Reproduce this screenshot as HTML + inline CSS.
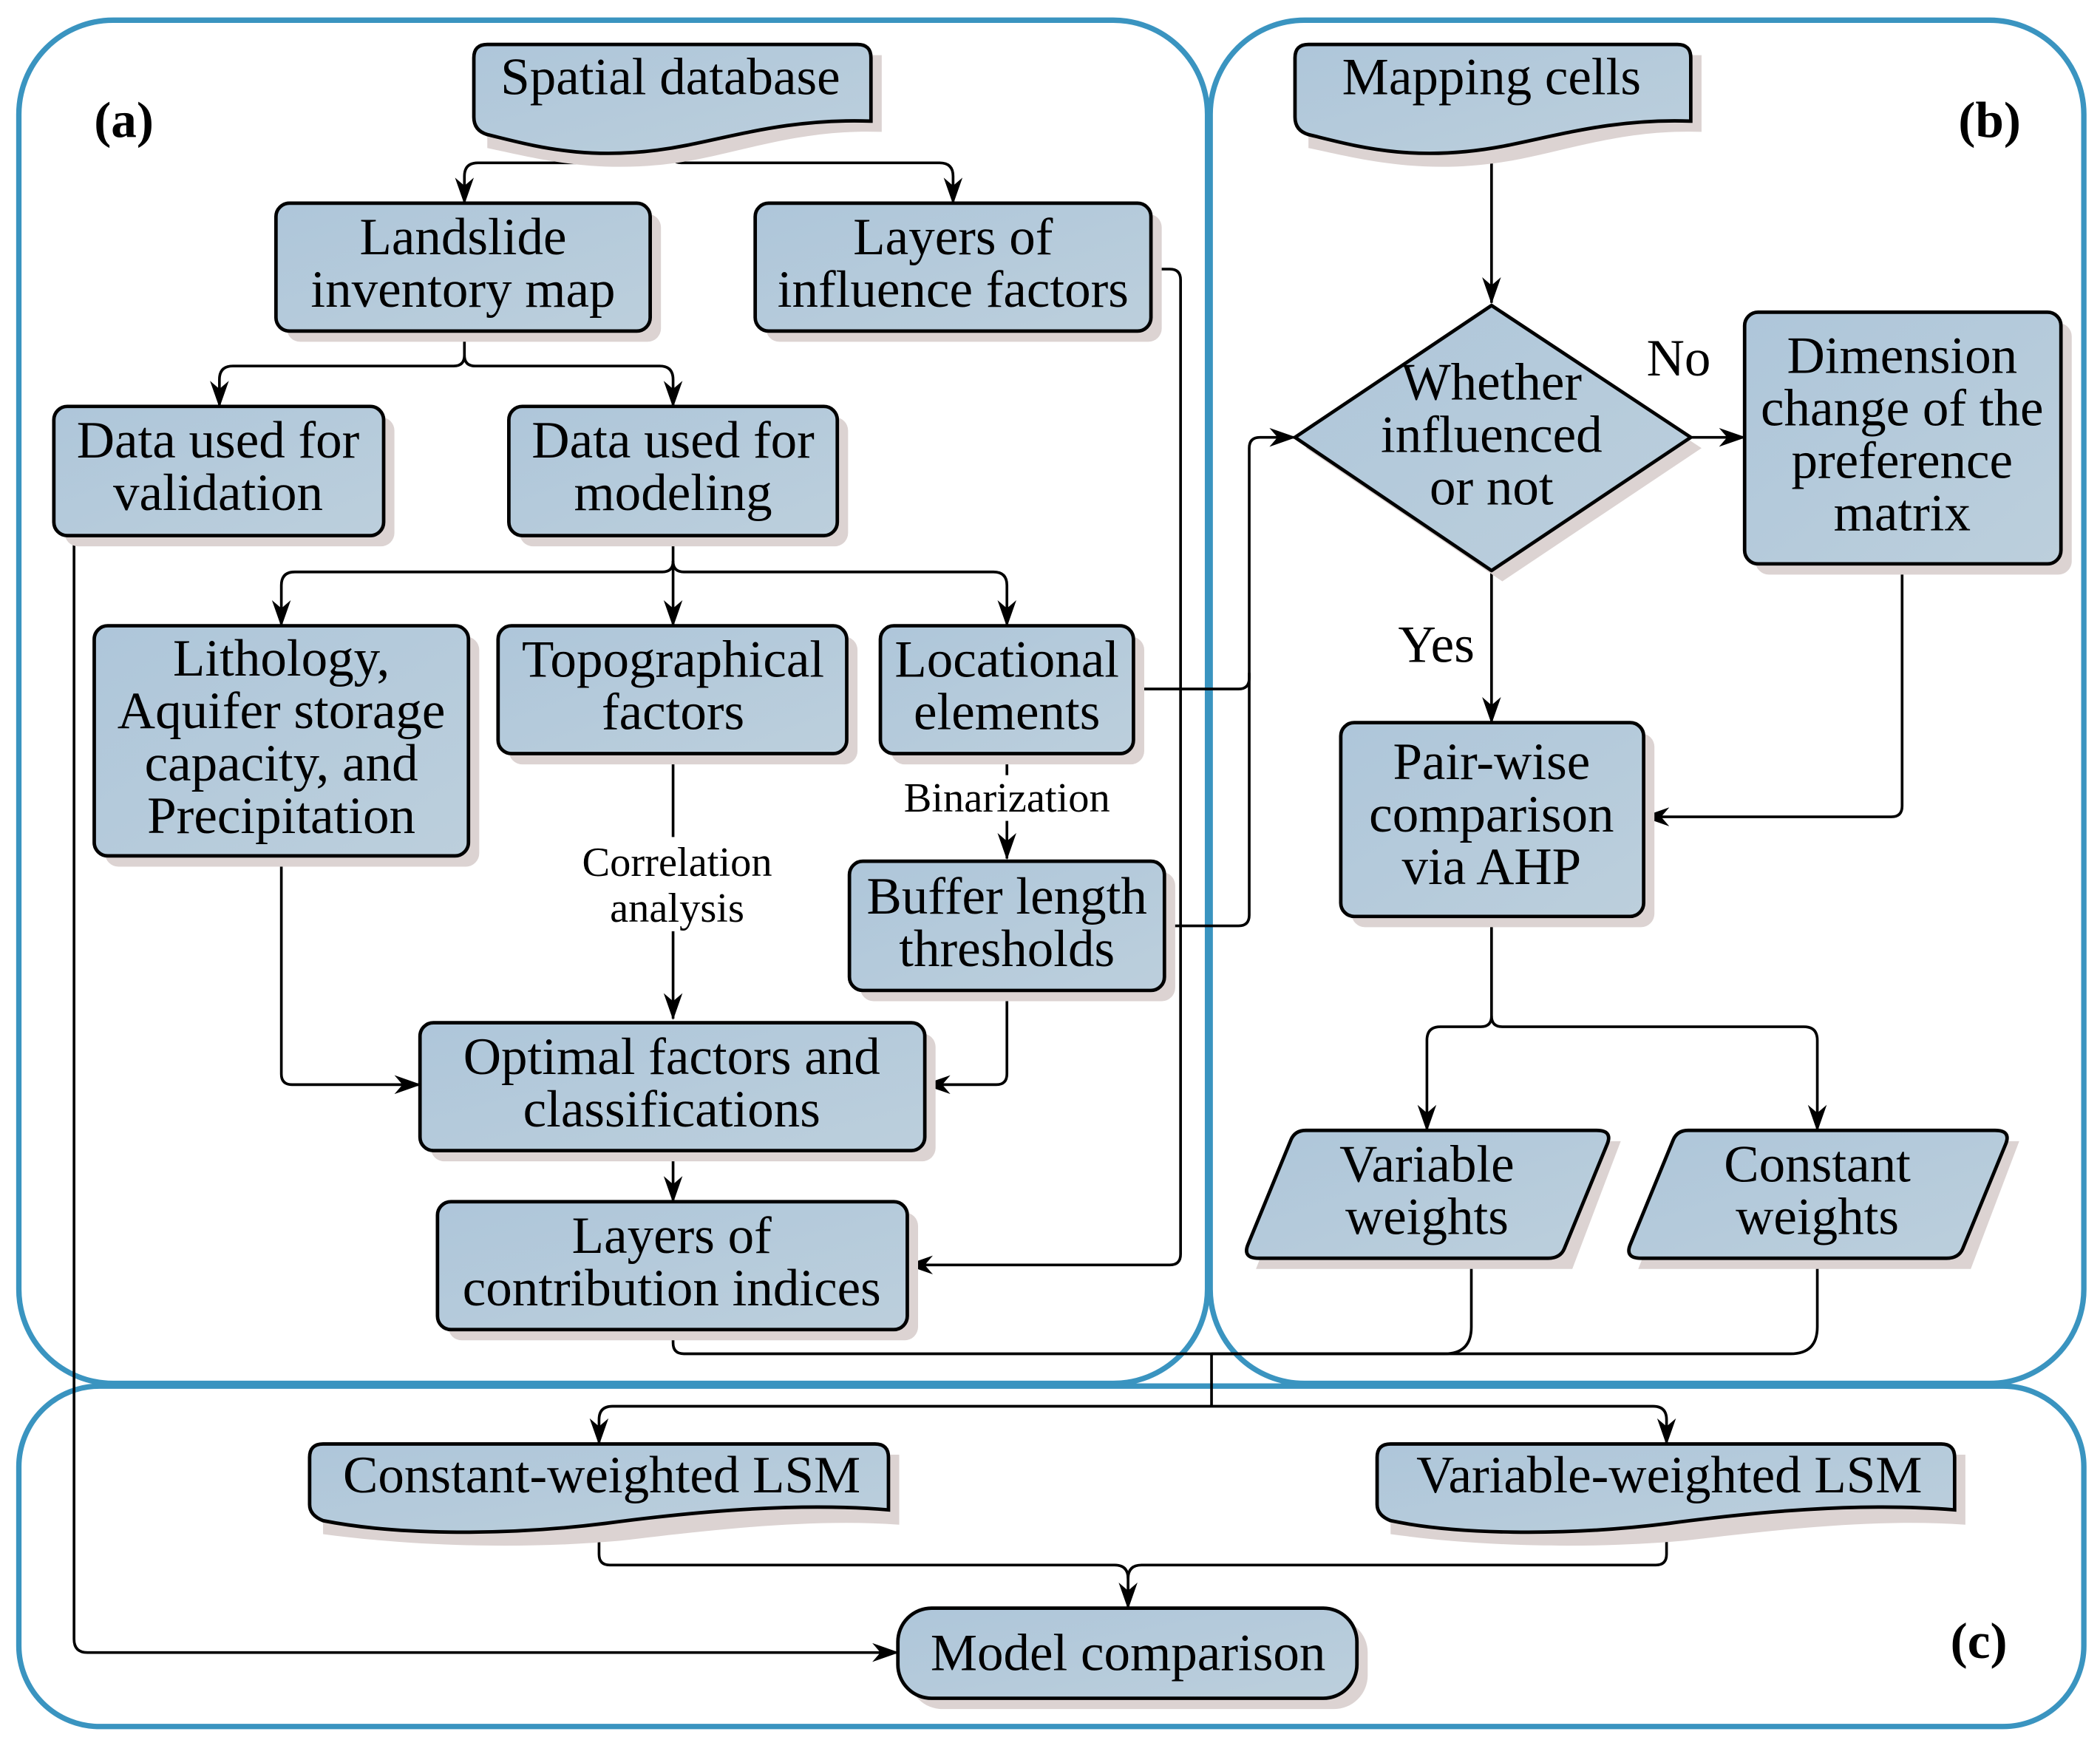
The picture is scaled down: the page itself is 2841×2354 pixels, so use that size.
<!DOCTYPE html>
<html><head><meta charset="utf-8"><style>html,body{margin:0;padding:0;background:#fff}svg{display:block}</style></head>
<body>
<svg xmlns="http://www.w3.org/2000/svg" width="2841" height="2354" viewBox="0 0 1560 1293" preserveAspectRatio="none">
<defs>
<linearGradient id="g" x1="0" y1="0" x2="1" y2="1">
<stop offset="0" stop-color="#aec6da"/><stop offset="1" stop-color="#bccfdc"/></linearGradient>
<marker id="a" viewBox="0 0 20 16" refX="19" refY="8" markerWidth="20" markerHeight="16" markerUnits="userSpaceOnUse" orient="auto">
<path d="M0,1 L20,8 L0,15 L6,8 Z" fill="#000"/></marker>
</defs>
<style>
.f{fill:none;stroke:#3a94c0;stroke-width:4}
.n{fill:url(#g);stroke:#000;stroke-width:2.6}
.s{fill:#dcd3d2}
.c{fill:none;stroke:#000;stroke-width:2}
text{font-family:"Liberation Serif",serif;font-size:39px;fill:#000;text-anchor:middle}
.sm{font-size:31px}
.lb{font-size:38px;font-weight:bold}
</style>
<rect class="f" x="14" y="15" width="883" height="1013" rx="70"/>
<rect class="f" x="899" y="15" width="649" height="1013" rx="70"/>
<rect class="f" x="14" y="1030" width="1534" height="253" rx="60"/>
<text class="lb" x="92" y="102">(a)</text>
<text class="lb" x="1478" y="102">(b)</text>
<text class="lb" x="1470" y="1232">(c)</text>

<path class="c" d="M498,112 V114 Q498,121 490,121 H355 Q345,121 345,131 V151" marker-end="url(#a)"/>
<path class="c" d="M498,112 Q498,121 506,121 H698 Q708,121 708,131 V151" marker-end="url(#a)"/>
<path class="c" d="M345,246 V264 Q345,272 337,272 H173 Q163,272 163,282 V302" marker-end="url(#a)"/>
<path class="c" d="M345,264 Q345,272 353,272 H490 Q500,272 500,282 V302" marker-end="url(#a)"/>
<path class="c" d="M500,398 V465" marker-end="url(#a)"/>
<path class="c" d="M500,417 Q500,425 492,425 H219 Q209,425 209,435 V465" marker-end="url(#a)"/>
<path class="c" d="M500,417 Q500,425 508,425 H738 Q748,425 748,435 V465" marker-end="url(#a)"/>
<path class="c" d="M55,398 V1218 Q55,1228 65,1228 H667" marker-end="url(#a)"/>
<path class="c" d="M855,200 H869 Q877,200 877,208 V932 Q877,940 869,940 H674" marker-end="url(#a)"/>
<path class="c" d="M500,560 V757" marker-end="url(#a)"/>
<path class="c" d="M748,560 V638" marker-end="url(#a)"/>
<path class="c" d="M209,636 V798 Q209,806 217,806 H312" marker-end="url(#a)"/>
<path class="c" d="M748,736 V798 Q748,806 740,806 H687" marker-end="url(#a)"/>
<path class="c" d="M500,855 V893" marker-end="url(#a)"/>
<path class="c" d="M842,512 H920 Q928,512 928,504 V333 Q928,325 936,325 H962" marker-end="url(#a)"/>
<path class="c" d="M865,688 H920 Q928,688 928,680 V500"/>
<path class="c" d="M1108,96 V225" marker-end="url(#a)"/>
<path class="c" d="M1256,325 H1296" marker-end="url(#a)"/>
<path class="c" d="M1108,424 V537" marker-end="url(#a)"/>
<path class="c" d="M1413,419 V599 Q1413,607 1405,607 H1221" marker-end="url(#a)"/>
<path class="c" d="M1108,681 V755 Q1108,763 1100,763 H1070 Q1060,763 1060,773 V840" marker-end="url(#a)"/>
<path class="c" d="M1108,755 Q1108,763 1116,763 H1340 Q1350,763 1350,773 V840" marker-end="url(#a)"/>
<path class="c" d="M500,988 V998 Q500,1006 508,1006 H1073 Q1093,1006 1093,986 V935"/>
<path class="c" d="M900,1006 H1330 Q1350,1006 1350,986 V935"/>
<path class="c" d="M900,1006 V1045"/>
<path class="c" d="M900,1045 H455 Q445,1045 445,1055 V1073" marker-end="url(#a)"/>
<path class="c" d="M900,1045 H1228 Q1238,1045 1238,1055 V1073" marker-end="url(#a)"/>
<path class="c" d="M445,1125 V1155 Q445,1163 453,1163 H828 Q838,1163 838,1173 V1195" marker-end="url(#a)"/>
<path class="c" d="M1238,1125 V1155 Q1238,1163 1230,1163 H848 Q838,1163 838,1173"/>

<rect x="418" y="622" width="170" height="70" fill="#fff"/>
<text class="sm" x="503" y="651">Correlation</text>
<text class="sm" x="503" y="685">analysis</text>
<rect x="658" y="576" width="180" height="34" fill="#fff"/>
<text class="sm" x="748" y="603">Binarization</text>
<text x="1247" y="279">No</text>
<text x="1067" y="492">Yes</text>

<path class="s" d="M362,41 H655 V98 C600,96 560,110 520,118 C450,132 400,118 362,110 Z"/>
<path class="n" d="M362,33 H637 Q647,33 647,43 V90 C590,88 550,100 510,108 C440,122 395,108 362,100 Q352,97 352,87 V43 Q352,33 362,33 Z"/>
<text x="498" y="70">Spatial database</text>
<path class="s" d="M972,41 H1264 V98 C1210,96 1170,110 1130,118 C1060,132 1010,118 972,110 Z"/>
<path class="n" d="M972,33 H1246 Q1256,33 1256,43 V90 C1200,88 1160,100 1120,108 C1050,122 1005,108 972,100 Q962,97 962,87 V43 Q962,33 972,33 Z"/>
<text x="1108" y="70">Mapping cells</text>

<g>
<rect class="s" x="213" y="159" width="278" height="95" rx="10"/><rect class="n" x="205" y="151" width="278" height="95" rx="10"/>
<text x="344" y="189">Landslide</text><text x="344" y="228">inventory map</text>
<rect class="s" x="569" y="159" width="294" height="95" rx="10"/><rect class="n" x="561" y="151" width="294" height="95" rx="10"/>
<text x="708" y="189">Layers of</text><text x="708" y="228">influence factors</text>
<rect class="s" x="48" y="310" width="245" height="96" rx="10"/><rect class="n" x="40" y="302" width="245" height="96" rx="10"/>
<text x="162" y="340">Data used for</text><text x="162" y="379">validation</text>
<rect class="s" x="386" y="310" width="244" height="96" rx="10"/><rect class="n" x="378" y="302" width="244" height="96" rx="10"/>
<text x="500" y="340">Data used for</text><text x="500" y="379">modeling</text>
<rect class="s" x="78" y="473" width="278" height="171" rx="10"/><rect class="n" x="70" y="465" width="278" height="171" rx="10"/>
<text x="209" y="502">Lithology,</text><text x="209" y="541">Aquifer storage</text><text x="209" y="580">capacity, and</text><text x="209" y="619">Precipitation</text>
<rect class="s" x="378" y="473" width="259" height="95" rx="10"/><rect class="n" x="370" y="465" width="259" height="95" rx="10"/>
<text x="500" y="503">Topographical</text><text x="500" y="542">factors</text>
<rect class="s" x="662" y="473" width="188" height="95" rx="10"/><rect class="n" x="654" y="465" width="188" height="95" rx="10"/>
<text x="748" y="503">Locational</text><text x="748" y="542">elements</text>
<rect class="s" x="639" y="648" width="234" height="96" rx="10"/><rect class="n" x="631" y="640" width="234" height="96" rx="10"/>
<text x="748" y="679">Buffer length</text><text x="748" y="718">thresholds</text>
<rect class="s" x="320" y="768" width="375" height="95" rx="10"/><rect class="n" x="312" y="760" width="375" height="95" rx="10"/>
<text x="499" y="798">Optimal factors and</text><text x="499" y="837">classifications</text>
<rect class="s" x="333" y="901" width="349" height="95" rx="10"/><rect class="n" x="325" y="893" width="349" height="95" rx="10"/>
<text x="499" y="931">Layers of</text><text x="499" y="970">contribution indices</text>
<rect class="s" x="1304" y="240" width="235" height="187" rx="10"/><rect class="n" x="1296" y="232" width="235" height="187" rx="10"/>
<text x="1413" y="277">Dimension</text><text x="1413" y="316">change of the</text><text x="1413" y="355">preference</text><text x="1413" y="394">matrix</text>
<rect class="s" x="1004" y="545" width="225" height="144" rx="10"/><rect class="n" x="996" y="537" width="225" height="144" rx="10"/>
<text x="1108" y="579">Pair-wise</text><text x="1108" y="618">comparison</text><text x="1108" y="657">via AHP</text>
</g>

<path class="s" d="M1116,235 L1264,333 L1116,432 L970,333 Z"/>
<path class="n" d="M1108,227 L1256,325 L1108,424 L962,325 Z" stroke-linejoin="round"/>
<text x="1108" y="297">Whether</text><text x="1108" y="336">influenced</text><text x="1108" y="375">or not</text>

<path class="s" d="M970,848 H1204 L1168,943 H933 Z"/>
<path class="n" d="M970,840 H1186 Q1198,840 1194,850 L1162,928 Q1159,935 1150,935 H935 Q923,935 927,925 L959,847 Q962,840 970,840 Z"/>
<text x="1060" y="878">Variable</text><text x="1060" y="917">weights</text>
<path class="s" d="M1254,848 H1500 L1464,943 H1217 Z"/>
<path class="n" d="M1254,840 H1482 Q1494,840 1490,850 L1458,928 Q1455,935 1446,935 H1219 Q1207,935 1211,925 L1243,847 Q1246,840 1254,840 Z"/>
<text x="1350" y="878">Constant</text><text x="1350" y="917">weights</text>

<path class="s" d="M240,1081 H668 V1133 C600,1128 520,1138 460,1145 C380,1152 300,1148 240,1140 Z"/>
<path class="n" d="M240,1073 H650 Q660,1073 660,1083 V1122 C590,1116 510,1124 450,1132 C370,1142 290,1140 240,1130 Q230,1126 230,1118 V1083 Q230,1073 240,1073 Z"/>
<text x="447" y="1109">Constant-weighted LSM</text>
<path class="s" d="M1033,1081 H1460 V1133 C1390,1128 1310,1138 1250,1145 C1170,1152 1090,1148 1033,1140 Z"/>
<path class="n" d="M1033,1073 H1442 Q1452,1073 1452,1083 V1122 C1380,1116 1300,1124 1240,1132 C1160,1142 1080,1140 1033,1130 Q1023,1126 1023,1118 V1083 Q1023,1073 1033,1073 Z"/>
<text x="1240" y="1109">Variable-weighted LSM</text>

<rect class="s" x="675" y="1203" width="341" height="67" rx="25"/>
<rect class="n" x="667" y="1195" width="341" height="67" rx="25"/>
<text x="838" y="1241">Model comparison</text>
</svg>
</body></html>
